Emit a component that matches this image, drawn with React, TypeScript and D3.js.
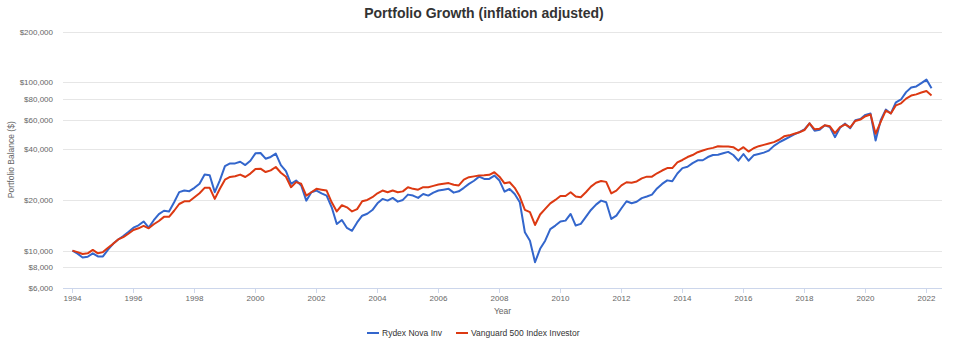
import React, { useEffect, useRef } from 'react';
import * as d3 from 'd3';

// bimonthly balances, Jan 1994 .. Mar 2022 (inflation adjusted, $)
const startYear = 1994;
const monthsPerStep = 2;

const rydexNova = [
  10000, 9600, 9100, 9200, 9640, 9240, 9240, 10140, 10970, 11650, 12200, 12900,
  13690, 14140, 14900, 13690, 15160, 16470, 17250, 17100, 19360, 22250, 22750, 22540,
  23600, 24970, 28280, 28000, 22250, 26150, 31750, 32950, 32950, 33710, 32200, 34180,
  37800, 38000, 35150, 36000, 37700, 32200, 29650, 24900, 26100, 24370, 19800, 22220,
  22740, 21900, 21220, 18080, 14400, 15200, 13630, 13120, 14710, 16120, 16560, 17420,
  19100, 20280, 19820, 20560, 19540, 20000, 21510, 21220, 20560, 21710, 21220, 22100,
  22740, 23000, 23270, 22100, 22500, 23600, 24900, 26000, 27500, 26650, 26650, 27900,
  26060, 22400, 23240, 21700, 19370, 12860, 11460, 8530, 10250, 11460, 13430, 14090,
  14900, 15070, 16510, 14090, 14410, 15850, 17440, 18760, 19820, 19370, 15420, 16140,
  17850, 19640, 19100, 19500, 20500, 20960, 21500, 23400, 24900, 26130, 25800, 28690,
  30900, 31460, 33100, 34400, 34400, 35950, 36960, 37100, 37830, 38560, 36960, 34200,
  37480, 34200, 36800, 37480, 38190, 39260, 41880, 43870, 45530, 47250, 48970, 50580,
  52500, 57000, 51500, 52270, 55450, 54190, 47170, 53690, 56750, 53300, 59450, 60400,
  64000, 65230, 45050, 59450, 68800, 65230, 76000, 79000, 87300, 93100, 94400, 98800,
  103600, 92000,
];

const vanguard500 = [
  10000, 9800, 9550, 9640, 10100, 9640, 9800, 10400, 10970, 11650, 12030, 12600,
  13260, 13570, 14020, 13570, 14340, 15000, 15870, 15870, 17250, 18920, 19630, 19630,
  20740, 21930, 23600, 23600, 20280, 23320, 26390, 27370, 27630, 28280, 27370, 28660,
  30500, 30650, 29280, 29950, 31370, 29000, 27450, 23800, 25500, 24940, 21220, 22220,
  23270, 23000, 22740, 19360, 17100, 18600, 18080, 17090, 17630, 19640, 20000, 20750,
  21900, 22740, 22220, 22740, 22220, 22480, 23810, 23270, 23000, 23810, 23810, 24240,
  24670, 24940, 25170, 24600, 24400, 26400, 27300, 27600, 27900, 28000, 28200, 29200,
  27500, 25100, 25470, 23600, 20930, 17440, 16910, 14200, 16380, 17680, 19100, 20000,
  21120, 21120, 22210, 20930, 20740, 22210, 24000, 25300, 25900, 25600, 21870, 22720,
  24400, 25470, 25300, 25750, 26850, 27500, 27500, 28800, 29900, 30900, 30900, 33400,
  34530, 35950, 36960, 38400, 39300, 40200, 40750, 41700, 41500, 41500, 41120, 39300,
  41120, 38730, 40560, 41700, 42470, 43260, 44100, 45530, 47700, 48360, 49470, 50400,
  52000, 57000, 52500, 52960, 55450, 54720, 49890, 54190, 56230, 53900, 58900, 60000,
  62820, 64330, 49430, 58080, 67800, 65230, 72900, 74900, 79900, 83300, 84650, 86800,
  88600, 83500,
];

const seriesNames = ['Rydex Nova Inv', 'Vanguard 500 Index Investor'];
const seriesColors = ['#3366cc', '#dc3912'];
const xTicks = [1994, 1996, 1998, 2000, 2002, 2004, 2006, 2008, 2010, 2012, 2014, 2016, 2018, 2020, 2022];
const yTicks = [6000, 8000, 10000, 20000, 40000, 60000, 80000, 100000, 200000];

const W = 968;
const H = 350;
const FONT = '"Liberation Sans", Arial, sans-serif';

export default function App() {
  const ref = useRef<HTMLDivElement>(null);

  useEffect(() => {
    document.body.style.margin = '0';
    const root = d3.select(ref.current);
    root.selectAll('*').remove();

    const svg = root.append('svg')
      .attr('width', W)
      .attr('height', H)
      .style('display', 'block')
      .style('font-family', FONT);

    svg.append('rect').attr('width', W).attr('height', H).attr('fill', '#fff');

    const left = 63, right = 942, top = 31.5, bottom = 288;

    const x = d3.scaleLinear().domain([1993.69, 2022.51]).range([left, right]);
    const y = d3.scaleLog().domain([6000, 200000]).range([bottom, top]);

    // title
    svg.append('text')
      .attr('x', W / 2).attr('y', 18)
      .attr('text-anchor', 'middle')
      .attr('font-size', 14).attr('font-weight', 'bold')
      .attr('fill', '#333')
      .text('Portfolio Growth (inflation adjusted)');

    // grid + y labels
    const fmt = d3.format('$,');
    yTicks.forEach(v => {
      const yy = Math.round(y(v)) + 0.5;
      svg.append('line')
        .attr('x1', left).attr('x2', right)
        .attr('y1', yy).attr('y2', yy)
        .attr('stroke', v === 6000 ? '#ccd6eb' : '#e6e6e6')
        .attr('stroke-width', 1);
      svg.append('text')
        .attr('x', 53).attr('y', y(v) + 3)
        .attr('text-anchor', 'end')
        .attr('font-size', 8).attr('fill', '#666')
        .text(fmt(v));
    });

    // x ticks
    xTicks.forEach(t => {
      const xx = Math.round(x(t)) + 0.5;
      svg.append('line')
        .attr('x1', xx).attr('x2', xx)
        .attr('y1', bottom).attr('y2', bottom + 5)
        .attr('stroke', '#ccd6eb');
      svg.append('text')
        .attr('x', x(t)).attr('y', 301)
        .attr('text-anchor', 'middle')
        .attr('font-size', 8).attr('fill', '#666')
        .text(t);
    });

    // axis titles
    svg.append('text')
      .attr('x', (left + right) / 2).attr('y', 314)
      .attr('text-anchor', 'middle')
      .attr('font-size', 8.5).attr('fill', '#666')
      .text('Year');
    svg.append('text')
      .attr('transform', `translate(14,${(top + bottom) / 2}) rotate(-90)`)
      .attr('text-anchor', 'middle')
      .attr('font-size', 8.5).attr('fill', '#666')
      .text('Portfolio Balance ($)');

    // lines
    const line = d3.line<number>()
      .x((_, i) => x(startYear + (i * monthsPerStep) / 12))
      .y(d => y(d));

    [rydexNova, vanguard500].forEach((s, k) => {
      svg.append('path')
        .datum(s)
        .attr('d', line)
        .attr('fill', 'none')
        .attr('stroke', seriesColors[k])
        .attr('stroke-width', 2)
        .attr('stroke-linejoin', 'round');
    });

    // legend
    const legendX = [367, 456];
    seriesNames.forEach((name, k) => {
      svg.append('line')
        .attr('x1', legendX[k]).attr('x2', legendX[k] + 12)
        .attr('y1', 333).attr('y2', 333)
        .attr('stroke', seriesColors[k]).attr('stroke-width', 2);
      svg.append('text')
        .attr('x', legendX[k] + 15).attr('y', 336)
        .attr('font-size', 8.5).attr('fill', '#333')
        .text(name);
    });
  }, []);

  return <div ref={ref}></div>;
}
